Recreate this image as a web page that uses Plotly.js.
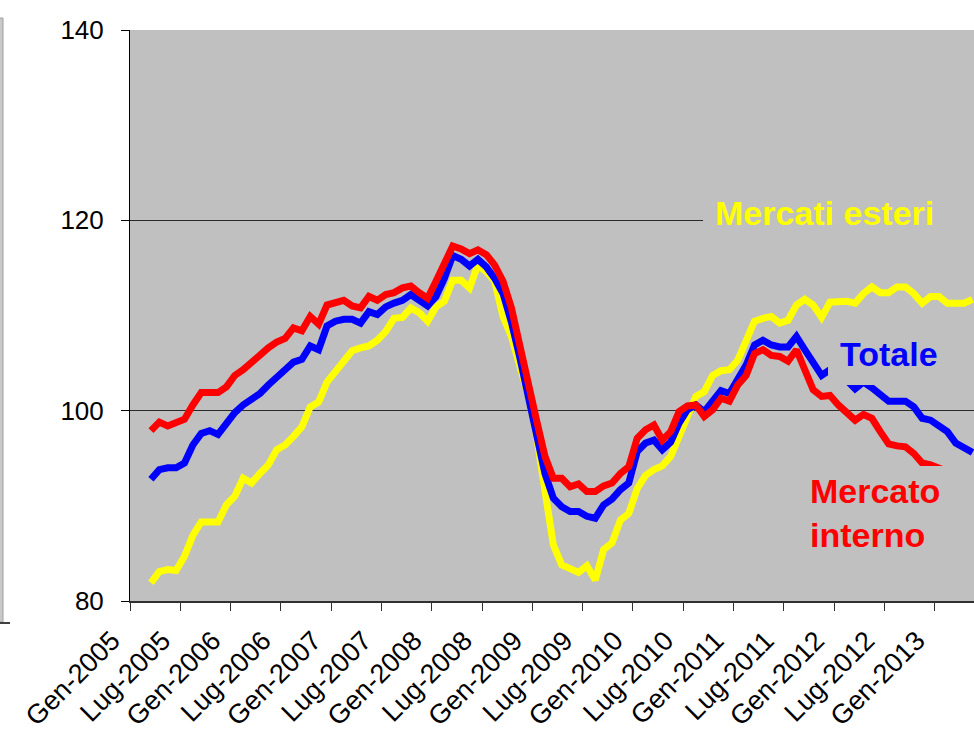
<!DOCTYPE html>
<html>
<head>
<meta charset="utf-8">
<script src="https://cdn.plot.ly/plotly-3.0.1.min.js"></script>
<style>html,body{margin:0;padding:0;background:#fff;}#chart{width:974px;height:735px;}</style>
</head>
<body>
<div id="chart"></div>
<script>
// Month names (Italian) and years for the category axis
var monthNames = ["Gen","Feb","Mar","Apr","Mag","Giu","Lug","Ago","Set","Ott","Nov","Dic"];
var years = [2005,2006,2007,2008,2009,2010,2011,2012,2013];
var categories = [];
years.forEach(function(y){ monthNames.forEach(function(m){ categories.push(m + "-" + y); }); });
categories = categories.slice(0, 101); // Gen-2005 .. Mag-2013

// Mercato interno (red)
var mercatoInterno = [null,null,
 97.9,98.8,98.4,98.7,99.1,100.6,101.9,101.9,101.9,102.5,
 103.7,104.3,105.1,105.7,106.6,107.2,107.6,108.7,108.4,109.9,109.1,111.1,
 111.3,111.6,111.0,110.8,112.0,111.6,112.2,112.4,112.9,113.1,112.4,111.8,
 113.6,115.5,117.3,117.0,116.5,116.9,116.4,115.3,113.6,110.8,107.1,103.4,
 99.0,95.2,92.9,92.9,92.0,92.3,91.5,91.5,92.1,92.4,93.4,94.1,
 97.1,98.0,98.5,96.9,97.8,99.9,100.5,100.6,99.4,100.1,101.3,101.0,
 102.7,103.7,106.0,106.4,105.8,105.7,105.2,106.4,104.3,102.2,101.5,101.6,
 100.6,99.9,99.0,99.6,99.2,97.8,96.5,96.3,96.2,95.5,94.5,94.3,
 94.0,93.6,93.2,92.8,92.5];

// Totale (blue)
var totale = [null,null,
 92.8,93.8,94.0,94.0,94.5,96.4,97.6,97.9,97.5,98.8,
 99.8,100.6,101.2,101.8,102.7,103.6,104.3,105.1,105.4,106.8,106.4,108.9,
 109.4,109.6,109.6,109.2,110.4,110.1,110.9,111.3,111.6,112.2,111.6,111.0,
 112.0,113.9,116.3,115.9,115.2,115.9,115.1,113.9,112.3,109.3,105.6,101.8,
 97.8,93.4,90.8,89.9,89.4,89.4,88.9,88.7,90.1,90.7,91.7,92.4,
 95.7,96.6,96.9,95.9,96.7,98.7,100.1,100.6,99.9,100.9,102.1,101.8,
 103.4,104.8,106.9,107.4,106.9,106.7,106.7,107.8,106.4,105.1,103.7,104.3,
 103.8,103.2,102.3,103.0,102.4,101.6,101.0,101.0,101.0,100.4,99.2,99.0,
 98.5,97.8,96.6,96.2,95.6];

// Mercati esteri (yellow)
var mercatiEsteri = [null,null,
 81.9,83.1,83.3,83.2,84.7,86.9,88.3,88.3,88.3,90.1,
 91.0,92.9,92.4,93.4,94.3,95.9,96.4,97.3,98.3,100.4,100.9,103.0,
 104.1,105.3,106.3,106.6,106.8,107.4,108.3,109.7,109.8,110.8,110.3,109.4,
 110.9,111.5,113.7,113.7,112.9,115.3,114.6,113.6,109.9,107.8,105.0,101.6,
 97.3,92.0,85.9,83.8,83.4,83.0,83.7,82.2,85.4,86.1,88.5,89.2,
 91.8,93.2,93.8,94.2,95.2,97.3,99.0,101.5,102.0,103.7,104.2,104.3,
 105.3,107.4,109.4,109.7,109.9,109.2,109.5,111.1,111.7,111.1,109.8,111.4,
 111.5,111.5,111.3,112.3,113.0,112.4,112.4,113.0,113.0,112.3,111.3,112.0,
 112.0,111.3,111.3,111.3,111.7];

var yTicks = [80,100,120,140];
var seriesLabels = ["Mercati esteri","Totale","Mercato<br>interno"];

var W = 974, H = 735, L = 130, R = 0, T = 30, B = 134;
var pw = W - L - R, ph = H - T - B;
function px(x){ return (x - L) / pw; }
function py(y){ return (H - B - y) / ph; }

var traces = [
 {x: categories, y: mercatiEsteri, type: "scatter", mode: "lines", line: {color: "#FFFF00", width: 7}, hoverinfo: "skip"},
 {x: categories, y: totale, type: "scatter", mode: "lines", line: {color: "#0000FF", width: 7}, hoverinfo: "skip"},
 {x: categories, y: mercatoInterno, type: "scatter", mode: "lines", line: {color: "#FF0000", width: 7}, hoverinfo: "skip"}
];

var font = "Arial, 'Liberation Sans', sans-serif";
var bg = "#C0C0C0";

var layout = {
 width: W, height: H,
 margin: {l: L, r: R, t: T, b: B},
 paper_bgcolor: "#FFFFFF",
 plot_bgcolor: bg,
 showlegend: false,
 xaxis: {
  type: "category",
  categoryorder: "array", categoryarray: categories,
  range: [-0.5, 100.18],
  tickmode: "linear", tick0: 0, dtick: 6,
  tickson: "boundaries",
  ticks: "outside", ticklen: 8, tickcolor: "#303030", tickwidth: 1,
  tickangle: -45,
  ticklabelstandoff: 11,
  ticklabelshift: -22,
  tickfont: {family: font, size: 27, color: "#000"},
  showgrid: false, zeroline: false,
  showline: true, linecolor: "#303030", linewidth: 2,
  fixedrange: true
 },
 yaxis: {
  range: [80, 140],
  tickvals: yTicks,
  ticks: "outside", ticklen: 8, tickcolor: "#000", tickwidth: 1,
  ticklabelstandoff: 12,
  tickfont: {family: font, size: 26, color: "#000"},
  showgrid: true, gridcolor: "#2a2a2a", gridwidth: 1,
  zeroline: false,
  showline: true, linecolor: "#000", linewidth: 1,
  fixedrange: true
 },
 shapes: [
  {type: "rect", xref: "paper", yref: "paper", layer: "above", x0: px(703), x1: px(975), y0: py(232), y1: py(195), fillcolor: bg, line: {width: 0}},
  {type: "rect", xref: "paper", yref: "paper", layer: "above", x0: px(828), x1: px(975), y0: py(385), y1: py(330), fillcolor: bg, line: {width: 0}},
  {type: "rect", xref: "paper", yref: "paper", layer: "above", x0: px(800), x1: px(975), y0: py(565), y1: py(466), fillcolor: bg, line: {width: 0}},
  {type: "rect", xref: "paper", yref: "paper", layer: "above", x0: px(-5), x1: px(3), y0: py(622), y1: py(18), fillcolor: "#C8C8C8", line: {color: "#A0A0A0", width: 1}},
  {type: "line", xref: "paper", yref: "paper", layer: "above", x0: px(0), x1: px(10), y0: py(623), y1: py(623), line: {color: "#404040", width: 2}}
 ],
 annotations: [
  {xref: "paper", yref: "paper", x: px(713), y: py(213), xanchor: "left", yanchor: "middle", showarrow: false,
   text: "<b>" + seriesLabels[0] + "</b>", font: {family: font, size: 34, color: "#FFFF00"}},
  {xref: "paper", yref: "paper", x: px(838), y: py(354), xanchor: "left", yanchor: "middle", showarrow: false,
   text: "<b>" + seriesLabels[1] + "</b>", font: {family: font, size: 34, color: "#0000FF"}},
  {xref: "paper", yref: "paper", x: px(808), y: py(513), xanchor: "left", yanchor: "middle", showarrow: false, align: "left",
   text: "<b>" + seriesLabels[2] + "</b>", font: {family: font, size: 34, color: "#FF0000"}}
 ]
};

Plotly.newPlot("chart", traces, layout, {staticPlot: true, displayModeBar: false});
</script>
</body>
</html>
